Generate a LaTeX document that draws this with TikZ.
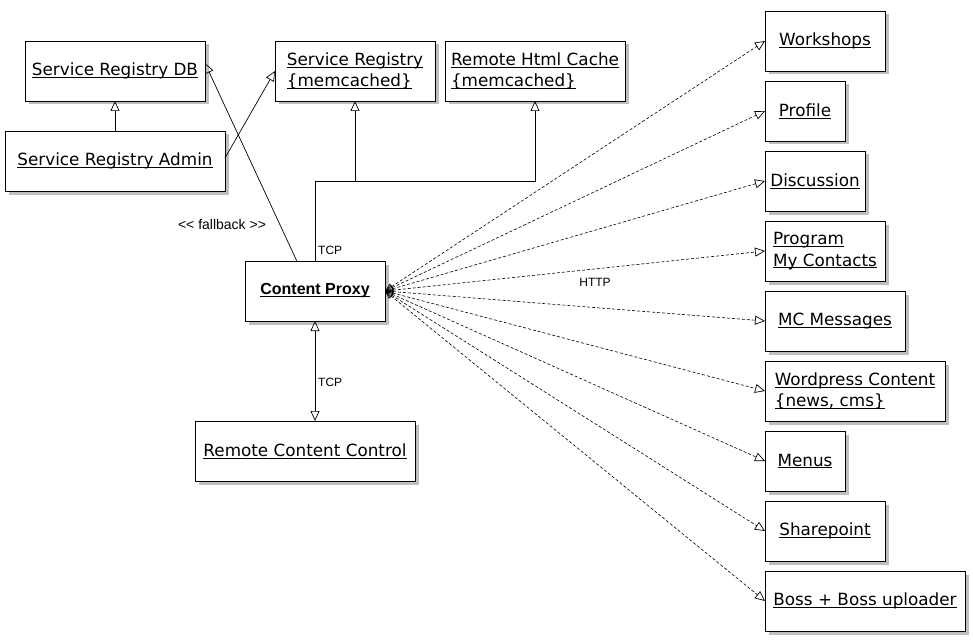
\documentclass[tikz,border=0pt]{standalone}
\usepackage{fontspec}
\setmainfont{DejaVu Sans}
\newfontfamily\labfont{Liberation Sans}
\usetikzlibrary{arrows.meta,calc}
\newsavebox\ulbox
\newcommand\ulx[1]{\sbox\ulbox{#1}\rlap{\rule[-2.2pt]{\wd\ulbox}{0.9pt}}\usebox\ulbox}
\begin{document}
\begin{tikzpicture}[x=1pt,y=-1pt,
  umlbox/.style={draw, line width=0.9pt, fill=white, anchor=north west,
    minimum height=60pt, inner sep=0pt, outer sep=0pt, align=left,
    preaction={draw=none, fill=black!25, transform canvas={xshift=3.5pt, yshift=-3.5pt}},
    font=\fontsize{16.8}{21.5}\selectfont},
  lab/.style={inner sep=0pt, font=\labfont\fontsize{12}{14}\selectfont},
  tip/.tip={Triangle[open, length=10pt, width=9pt, line width=0.7pt]},
  stip/.tip={Triangle[open, length=8pt, width=7pt, line width=0.5pt]},
  solidtri/.style={draw, line width=0.7pt, -tip},
  bothtri/.style={draw, line width=0.7pt, tip-tip},
  httpline/.style={draw, line width=0.6pt, dash pattern=on 3pt off 2pt, stip-tip},
  plain/.style={draw, line width=0.7pt}]
\fill[white] (0,0) rectangle (973,639);
\useasboundingbox (0,0) rectangle (973,639);

% left / top boxes
\node[umlbox, minimum width=180pt] (srdb) at (25,41) {\ulx{Service Registry DB}};
\node[umlbox, minimum width=220pt] (sra) at (5,131) {\ulx{Service Registry Admin}};
\node[umlbox, minimum width=160pt] (srm) at (275,41) {\ulx{Service Registry}\\\ulx{\{memcached\}}};
\node[umlbox, minimum width=180pt] (rhc) at (445,41) {\ulx{Remote Html Cache}\\\ulx{\{memcached\}}};
\node[umlbox, minimum width=140pt, font=\labfont\bfseries\fontsize{16}{19}\selectfont] (cp) at (245,261) {\ulx{Content Proxy}};
\node[umlbox, minimum width=220pt] (rcc) at (195,421) {\ulx{Remote Content Control}};

% right column
\node[umlbox, minimum width=120pt] (ws) at (765,11) {\ulx{Workshops}};
\node[umlbox, minimum width=80pt] (pf) at (765,81) {\ulx{Profile}};
\node[umlbox, minimum width=100pt] (dc) at (765,151) {\ulx{Discussion}};
\node[umlbox, minimum width=120pt] (pc) at (765,221) {\ulx{Program}\\\ulx{My Contacts}};
\node[umlbox, minimum width=140pt] (mc) at (765,291) {\ulx{MC Messages}};
\node[umlbox, minimum width=180pt] (wp) at (765,361) {\ulx{Wordpress Content}\\\ulx{\{news, cms\}}};
\node[umlbox, minimum width=80pt] (mn) at (765,431) {\ulx{Menus}};
\node[umlbox, minimum width=120pt] (sp) at (765,501) {\ulx{Sharepoint}};
\node[umlbox, minimum width=200pt] (bs) at (765,571) {\ulx{Boss + Boss uploader}};

% solid connectors
\draw[solidtri] (sra.north) -- (srdb.south);
\draw[solidtri] ($(sra.north east)!0.45!(sra.south east)$) -- (srm.west);
\draw[solidtri] ($(cp.north west)!0.37!(cp.north east)$) -- ($(srdb.north east)!0.37!(srdb.south east)$);
\coordinate (junc) at ($(cp.north)+(0,-80)$);
\draw[plain] (cp.north) -- (junc);
\draw[solidtri] (junc) -| (rhc.south);
\draw[solidtri] (srm.south |- junc) -- (srm.south);
\draw[bothtri] (cp.south) -- (cp.south |- rcc.north);

% http connectors
\foreach \t in {ws,pf,dc,pc,mc,wp,mn,sp,bs}
  \draw[httpline] (cp.east) -- (\t.west);

% labels
\node[lab, font=\labfont\fontsize{14}{16}\selectfont] (fb) at (222,224) {<\kern0pt< fallback >\kern0pt>};
\node[lab, anchor=west] (tcp1) at (318,250) {TCP};
\node[lab, anchor=west] (tcp2) at (318,382) {TCP};
\node[lab] (http) at (595,282) {HTTP};
\end{tikzpicture}
\end{document}
